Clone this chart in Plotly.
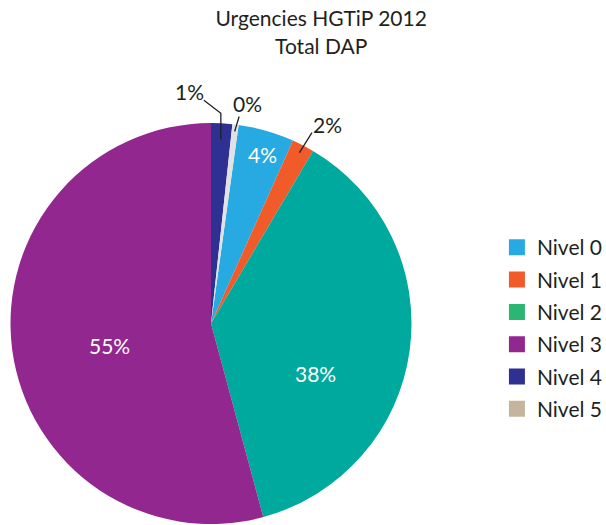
import math
import plotly.graph_objects as go

# ---- data ----
levels = ["Nivel 0", "Nivel 1", "Nivel 2", "Nivel 3", "Nivel 4", "Nivel 5"]
shares = [4.5, 1.8, 37.3, 54.2, 1.7, 0.5]
pct_labels = ["4%", "2%", "38%", "55%", "1%", "0%"]
slice_colors = ["#27aae1", "#f15a29", "#00a99d", "#92278f", "#2e3192", "#e1e2e4"]
legend_colors = ["#27aae1", "#f15a29", "#2bb673", "#92278f", "#2e3192", "#c4b59b"]

# ---- layout geometry (px) ----
W, H = 606, 525
cx, cy, R = 211, 323.5, 200.5
FONT = "Lato"
INK = "#231f20"
FS = 21

dom_x = [(cx - R) / W, (cx + R) / W]
dom_y = [(H - cy - R) / H, (H - cy + R) / H]

total = sum(shares)
# Nivel 4 and Nivel 5 start at 12 o'clock
rotation = 360 * (shares[4] + shares[5]) / total

fig = go.Figure()
fig.add_trace(go.Pie(
    labels=levels,
    values=shares,
    textinfo="none",
    marker=dict(colors=slice_colors, line=dict(width=0)),
    sort=False,
    direction="clockwise",
    rotation=rotation,
    domain=dict(x=dom_x, y=dom_y),
    showlegend=False,
    hoverinfo="label+percent",
))

for name, col in zip(levels, legend_colors):
    fig.add_trace(go.Scatter(
        x=[None], y=[None], mode="markers", name=name, legendgroup=name,
        marker=dict(symbol="square", size=16, color=col),
    ))

# label placement styles: inside labels by (radius fraction, angle shift);
# outside labels by leader-line tip radius, elbow offsets and text offset (px)
inside_spec = {
    0: dict(r=0.88, shift=0.9),
    2: dict(r=0.577, shift=17.6),
    3: dict(r=0.52, shift=-4.4),
}
outside_spec = {
    4: dict(r=0.92, path=[(0, -26), (-17, -39)], text=(-31, -48)),
    5: dict(r=0.965, path=[(4.5, -15)], text=(13, -27.5)),
    1: dict(r=0.96, path=[(12.5, -20)], text=(28, -28.5)),
}

def px2paper(x, y):
    return x / W, 1 - y / H

shapes, annotations = [], []
cum = 0.0
for i, v in enumerate(shares):
    start = rotation + 360 * cum / total
    mid_deg = start + 180 * v / total
    cum += v
    if i in inside_spec:
        s = inside_spec[i]
        a = math.radians(mid_deg + s["shift"])
        lx, ly = px2paper(cx + s["r"] * R * math.sin(a), cy - s["r"] * R * math.cos(a))
        annotations.append(dict(x=lx, y=ly, xref="paper", yref="paper",
                                text=pct_labels[i], showarrow=False,
                                font=dict(size=FS, color="white", family=FONT),
                                xanchor="center", yanchor="middle"))
    elif i in outside_spec:
        s = outside_spec[i]
        mid = math.radians(mid_deg)
        tx = cx + s["r"] * R * math.sin(mid)
        ty = cy - s["r"] * R * math.cos(mid)
        pts = [(tx, ty)] + [(tx + dx, ty + dy) for dx, dy in s["path"]]
        path = ""
        for k, (x, y) in enumerate(pts):
            px, py = px2paper(x, y)
            path += ("M" if k == 0 else " L") + f" {px:.5f} {py:.5f}"
        shapes.append(dict(type="path", xref="paper", yref="paper", path=path,
                           line=dict(color=INK, width=1.3)))
        lx, ly = px2paper(tx + s["text"][0], ty + s["text"][1])
        annotations.append(dict(x=lx, y=ly, xref="paper", yref="paper",
                                text=pct_labels[i], showarrow=False,
                                font=dict(size=FS, color=INK, family=FONT),
                                xanchor="center", yanchor="middle"))

fig.update_layout(
    width=W, height=H,
    margin=dict(l=0, r=0, t=0, b=0, autoexpand=False),
    paper_bgcolor="white", plot_bgcolor="white",
    font=dict(family=FONT, color=INK),
    title=dict(text="Urgencies HGTiP 2012<br>Total DAP",
               x=0.53, xanchor="center", y=0.95, yanchor="top",
               font=dict(size=FS, family=FONT, color=INK)),
    xaxis=dict(visible=False), yaxis=dict(visible=False),
    legend=dict(x=0.82, y=0.375, xanchor="left", yanchor="middle",
                font=dict(size=FS, family=FONT, color=INK),
                traceorder="grouped", tracegroupgap=2, itemwidth=30,
                bgcolor="rgba(0,0,0,0)"),
    shapes=shapes,
    annotations=annotations,
)

fig.write_html("out.html")
